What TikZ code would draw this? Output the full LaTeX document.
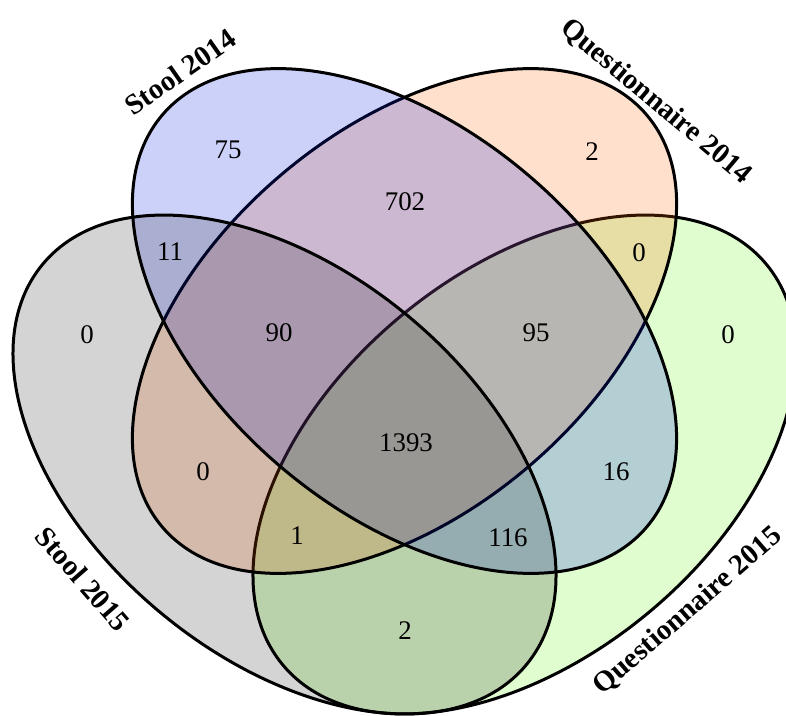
\documentclass[tikz,border=0pt]{standalone}
\usepackage{fontspec}
\setmainfont{Liberation Serif}
\definecolor{vgreen}{RGB}{100,245,15}
\definecolor{vorange}{RGB}{255,100,0}
\definecolor{vblue}{RGB}{0,25,230}
\definecolor{vgray}{RGB}{0,0,0}
\begin{document}
\begin{tikzpicture}[x=1bp,y=-1bp,
  setshape/.style={draw=black,line width=3bp,fill opacity=0.2},
  num/.style={font=\fontsize{27}{30}\selectfont, inner sep=0pt},
  lab/.style={font=\fontsize{29}{32}\selectfont\bfseries, inner sep=0pt}]
\useasboundingbox (0,0) rectangle (786,716);
\clip (0,0) rectangle (786,716);
% Questionnaire 2015 (green)
\path[setshape, fill=vgreen, rotate around={39.6:(524.5,464.5)}]
  (524.5,464.5) ellipse [x radius=314, y radius=193.2];
% Questionnaire 2014 (orange)
\path[setshape, fill=vorange, rotate around={40.4:(404.5,321)}]
  (404.5,321) ellipse [x radius=318, y radius=191.3];
% Stool 2014 (blue)
\path[setshape, fill=vblue, rotate around={-40.4:(404.5,321)}]
  (404.5,321) ellipse [x radius=318, y radius=191.3];
% Stool 2015 (gray)
\path[setshape, fill=vgray, fill opacity=0.17, rotate around={-39.6:(284.5,464.5)}]
  (284.5,464.5) ellipse [x radius=314, y radius=193.2];
% region counts
\node[num] (n75)   at (228,150) {75};
\node[num] (n702)  at (405,202) {702};
\node[num] (n2a)   at (592,152) {2};
\node[num] (n11)   at (170,252) {11};
\node[num] (n0a)   at (639,253) {0};
\node[num] (n0b)   at (87,335)  {0};
\node[num] (n90)   at (279,333) {90};
\node[num] (n95)   at (536,333) {95};
\node[num] (n0c)   at (728,335) {0};
\node[num] (n1393) at (406,443) {1393};
\node[num] (n0d)   at (203,472) {0};
\node[num] (n16)   at (616,472) {16};
\node[num] (n1)    at (297,536) {1};
\node[num] (n116)  at (508,538) {116};
\node[num] (n2b)   at (405,631) {2};
% set labels
\node[lab, rotate=35]  (s14) at (180,72)  {Stool 2014};
\node[lab, rotate=-40] (q14) at (656,102) {Questionnaire 2014};
\node[lab, rotate=41]  (q15) at (688,611) {Questionnaire 2015};
\node[lab, rotate=-49] (s15) at (83,579)  {Stool 2015};
\end{tikzpicture}
\end{document}
